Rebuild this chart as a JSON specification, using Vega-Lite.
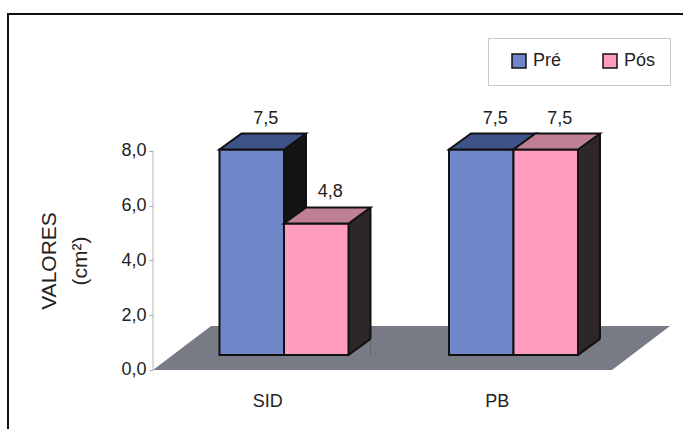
{
  "$schema": "https://vega.github.io/schema/vega-lite/v6.json",
  "width": 700,
  "height": 438,
  "autosize": {"type": "none"},
  "padding": {"left": 8, "top": 14, "right": -25, "bottom": -23},
  "background": "white",
  "title": {
    "text": "GRUPOS ESTUDADOS",
    "font": "Liberation Sans",
    "fontSize": 24,
    "fontWeight": "normal",
    "color": "#444",
    "anchor": "middle",
    "frame": "group",
    "baseline": "alphabetic",
    "offset": 9,
    "dx": -55
  },
  "data": {
    "values": [
      {"grupo": "SID", "serie": "Pré", "valor": 7.5},
      {"grupo": "SID", "serie": "Pós", "valor": 4.8},
      {"grupo": "PB", "serie": "Pré", "valor": 7.5},
      {"grupo": "PB", "serie": "Pós", "valor": 7.5}
    ]
  },
  "layer": [
    {
      "data": {"values": [{}]},
      "mark": {"type": "point", "shape": "M-1.1475,0L3.4425,0L4.0225,-0.44L-0.5675,-0.44Z", "size": 40000, "filled": true, "fill": "#787b85", "strokeWidth": 0, "opacity": 1},
      "encoding": {
        "x": {
          "datum": "SID", "type": "nominal",
          "scale": {"domain": ["SID", "PB"], "paddingInner": 0, "paddingOuter": 0.525054, "align": 0.60166},
          "axis": {"orient": "bottom", "offset": -82, "domain": false, "ticks": false, "grid": false, "labelPadding": 22, "labelFontSize": 18, "labelColor": "#222", "labelAngle": 0, "title": null}
        },
        "y": {
          "datum": 0, "type": "quantitative",
          "scale": {"domain": [-3, 13], "nice": false, "zero": false},
          "axis": {"orient": "left", "offset": -145, "values": [0, 2, 4, 6, 8], "format": ".1f", "domain": false, "grid": false, "ticks": true, "tickSize": 4, "tickColor": "#aaa", "labelPadding": 3, "labelFontSize": 18, "labelColor": "#222", "title": ["VALORES", "(cm²)"], "titleFontSize": 21, "titleFontWeight": "normal", "titleColor": "#222", "titleLineHeight": 31, "titleX": -104, "titleY": 246.5, "titleBaseline": "middle", "titleAngle": -90}
        }
      }
    },
    {
      "data": {"values": [{}]},
      "mark": {"type": "rule", "stroke": "#b5b5b5", "strokeWidth": 1, "xOffset": -114.75},
      "encoding": {
        "x": {"datum": "SID", "type": "nominal"},
        "y": {"datum": 0, "type": "quantitative"},
        "y2": {"datum": 8}
      }
    },
    {
      "transform": [{"filter": "datum.serie === 'Pré'"}],
      "mark": {"type": "bar", "width": 22, "fill": "#141414", "strokeWidth": 0, "xOffset": 27.25, "yOffset": -31, "y2Offset": -15},
      "encoding": {
        "x": {"field": "grupo", "type": "nominal"},
        "y": {"field": "valor", "type": "quantitative"},
        "y2": {"datum": 0}
      }
    },
    {
      "transform": [{"filter": "datum.serie === 'Pré'"}],
      "mark": {"type": "point", "shape": "M0.3225,-0.15L0.5425,-0.15L0.5425,-0.31Z", "size": 40000, "filled": true, "fill": "#787b85", "strokeWidth": 0, "opacity": 1, "xOffset": -16},
      "encoding": {
        "x": {"field": "grupo", "type": "nominal"},
        "y": {"datum": 0, "type": "quantitative"}
      }
    },
    {
      "transform": [{"filter": "datum.serie === 'Pré'"}],
      "mark": {"type": "bar", "width": 64.5, "stroke": "#111", "strokeWidth": 2, "xOffset": -16, "yOffset": -15, "y2Offset": -15},
      "encoding": {
        "x": {"field": "grupo", "type": "nominal"},
        "y": {"field": "valor", "type": "quantitative"},
        "y2": {"datum": 0},
        "color": {
          "field": "serie", "type": "nominal",
          "scale": {"domain": ["Pré", "Pós"], "range": ["#6f87c9", "#ff9cc0"]},
          "legend": {"orient": "none", "legendX": 480, "legendY": 24, "direction": "horizontal", "title": null, "padding": 14, "strokeColor": "#c8c8c8", "fillColor": "#ffffff", "symbolType": "square", "symbolSize": 196, "symbolStrokeColor": "#111", "symbolStrokeWidth": 1.5, "symbolOffset": 8, "labelFontSize": 18, "labelColor": "#222", "labelOffset": 5, "columnPadding": 31}
        }
      }
    },
    {
      "transform": [{"filter": "datum.serie === 'Pré'"}],
      "mark": {"type": "point", "shape": "M-0.3225,-0.15L0.3225,-0.15L0.5425,-0.31L-0.1025,-0.31Z", "size": 40000, "filled": true, "fill": "#3e5387", "stroke": "#111", "strokeWidth": 2, "opacity": 1, "xOffset": -16},
      "encoding": {
        "x": {"field": "grupo", "type": "nominal"},
        "y": {"field": "valor", "type": "quantitative"}
      }
    },
    {
      "transform": [{"filter": "datum.serie === 'Pré'"}],
      "mark": {"type": "rule", "stroke": "#111", "strokeWidth": 2, "xOffset": 38.25, "yOffset": -31, "y2Offset": -31},
      "encoding": {
        "x": {"field": "grupo", "type": "nominal"},
        "y": {"field": "valor", "type": "quantitative"},
        "y2": {"datum": 0}
      }
    },
    {
      "transform": [{"filter": "datum.serie === 'Pré'"}],
      "mark": {"type": "point", "shape": "M0.3225,-0.15L0.5425,-0.31", "size": 40000, "filled": false, "stroke": "#111", "strokeWidth": 2, "opacity": 1, "xOffset": -16},
      "encoding": {
        "x": {"field": "grupo", "type": "nominal"},
        "y": {"datum": 0, "type": "quantitative"}
      }
    },
    {
      "transform": [{"filter": "datum.serie === 'Pré'"}],
      "mark": {"type": "text", "font": "Liberation Sans", "fontSize": 18, "color": "#222", "baseline": "alphabetic", "align": "center", "xOffset": -2, "yOffset": -41},
      "encoding": {
        "x": {"field": "grupo", "type": "nominal"},
        "y": {"field": "valor", "type": "quantitative"},
        "text": {"field": "valor", "type": "quantitative", "format": ".1f"}
      }
    },
    {
      "transform": [{"filter": "datum.serie === 'Pós'"}],
      "mark": {"type": "bar", "width": 22, "fill": "#2e2727", "strokeWidth": 0, "xOffset": 91.75, "yOffset": -31, "y2Offset": -15},
      "encoding": {
        "x": {"field": "grupo", "type": "nominal"},
        "y": {"field": "valor", "type": "quantitative"},
        "y2": {"datum": 0}
      }
    },
    {
      "transform": [{"filter": "datum.serie === 'Pós'"}],
      "mark": {"type": "point", "shape": "M0.3225,-0.15L0.5425,-0.15L0.5425,-0.31Z", "size": 40000, "filled": true, "fill": "#787b85", "strokeWidth": 0, "opacity": 1, "xOffset": 48.5},
      "encoding": {
        "x": {"field": "grupo", "type": "nominal"},
        "y": {"datum": 0, "type": "quantitative"}
      }
    },
    {
      "transform": [{"filter": "datum.serie === 'Pós'"}],
      "mark": {"type": "bar", "width": 64.5, "stroke": "#111", "strokeWidth": 2, "xOffset": 48.5, "yOffset": -15, "y2Offset": -15},
      "encoding": {
        "x": {"field": "grupo", "type": "nominal"},
        "y": {"field": "valor", "type": "quantitative"},
        "y2": {"datum": 0},
        "color": {"field": "serie", "type": "nominal"}
      }
    },
    {
      "transform": [{"filter": "datum.serie === 'Pós'"}],
      "mark": {"type": "point", "shape": "M-0.3225,-0.15L0.3225,-0.15L0.5425,-0.31L-0.1025,-0.31Z", "size": 40000, "filled": true, "fill": "#c08094", "stroke": "#111", "strokeWidth": 2, "opacity": 1, "xOffset": 48.5},
      "encoding": {
        "x": {"field": "grupo", "type": "nominal"},
        "y": {"field": "valor", "type": "quantitative"}
      }
    },
    {
      "transform": [{"filter": "datum.serie === 'Pós'"}],
      "mark": {"type": "rule", "stroke": "#111", "strokeWidth": 2, "xOffset": 102.75, "yOffset": -31, "y2Offset": -31},
      "encoding": {
        "x": {"field": "grupo", "type": "nominal"},
        "y": {"field": "valor", "type": "quantitative"},
        "y2": {"datum": 0}
      }
    },
    {
      "transform": [{"filter": "datum.serie === 'Pós'"}],
      "mark": {"type": "point", "shape": "M0.3225,-0.15L0.5425,-0.31", "size": 40000, "filled": false, "stroke": "#111", "strokeWidth": 2, "opacity": 1, "xOffset": 48.5},
      "encoding": {
        "x": {"field": "grupo", "type": "nominal"},
        "y": {"datum": 0, "type": "quantitative"}
      }
    },
    {
      "transform": [{"filter": "datum.serie === 'Pós'"}],
      "mark": {"type": "text", "font": "Liberation Sans", "fontSize": 18, "color": "#222", "baseline": "alphabetic", "align": "center", "xOffset": 62.5, "yOffset": -41},
      "encoding": {
        "x": {"field": "grupo", "type": "nominal"},
        "y": {"field": "valor", "type": "quantitative"},
        "text": {"field": "valor", "type": "quantitative", "format": ".1f"}
      }
    }
  ],
  "config": {
    "font": "Liberation Sans",
    "view": {"stroke": "#111", "strokeWidth": 2},
    "axis": {"labelFont": "Liberation Sans", "titleFont": "Liberation Sans"},
    "legend": {"labelFont": "Liberation Sans"},
    "locale": {"number": {"decimal": ",", "thousands": ".", "grouping": [3], "currency": ["R$ ", ""]}}
  }
}
